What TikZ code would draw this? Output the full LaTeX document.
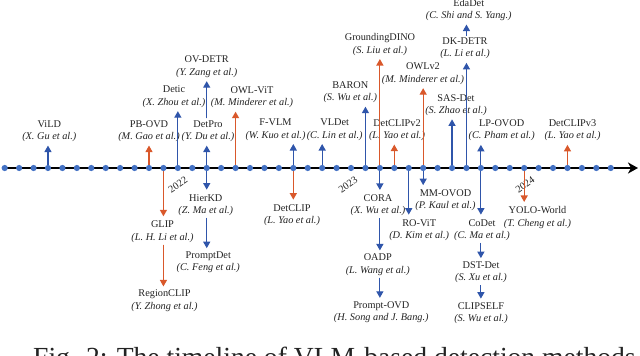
\documentclass[tikz,border=0pt]{standalone}
\usepackage{fontspec}
\setmainfont{Liberation Serif}
\usetikzlibrary{arrows.meta}
\definecolor{dotblue}{RGB}{68,114,196}
\definecolor{arrblue}{RGB}{47,85,170}
\definecolor{arrorange}{RGB}{217,88,43}
\definecolor{txt}{RGB}{35,35,35}
\begin{document}
\begin{tikzpicture}[x=1pt,y=-1pt,
  lbl/.style={align=center, inner sep=0pt, font=\fontsize{10.3}{12.3}\selectfont, text=txt},
  yr/.style={rotate=35, inner sep=0pt, font=\fontsize{10.3}{12.3}\selectfont, text=txt},
  conn/.style={line width=1.2pt, -{Triangle[length=6.5pt,width=7pt]}},
  upc/.style={conn, shorten >=3.5pt},
  dnc/.style={conn, shorten >=4.5pt},
  chain/.style={conn, shorten <=2pt, shorten >=3.5pt},
  bl/.style={draw=arrblue, fill=arrblue},
  og/.style={draw=arrorange, fill=arrorange},
  dot/.style={circle, fill=dotblue, inner sep=0pt, minimum size=6.2pt},
  axisline/.style={line width=2pt, -{Stealth[length=10pt,width=11pt,inset=3pt]}}
]
\useasboundingbox (0,0) rectangle (640,356);
\clip (0,0) rectangle (640,356);

% axis positions
\foreach \i in {0,...,42}{
  \pgfmathsetmacro{\xx}{4.7+14.43*\i}
  \coordinate (d\i) at (\xx,168);
}
\coordinate (axs) at (1.5,168);
\coordinate (axe) at (638,168);

% labels above
\node[lbl] (vild) at (49.3,131.2) {ViLD\\\textit{(X. Gu et al.)}};
\node[lbl] (pbovd) at (149,131.2) {PB-OVD\\\textit{(M. Gao et al.)}};
\node[lbl] (detic) at (174,96.8) {Detic\\\textit{(X. Zhou et al.)}};
\node[lbl] (detpro) at (208,131.3) {DetPro\\\textit{(Y. Du et al.)}};
\node[lbl] (ovdetr) at (206.7,66.8) {OV-DETR\\\textit{(Y. Zang et al.)}};
\node[lbl] (owlvit) at (252,97.3) {OWL-ViT\\\textit{(M. Minderer et al.)}};
\node[lbl] (fvlm) at (275.5,129.7) {F-VLM\\\textit{(W. Kuo et al.)}};
\node[lbl] (vldet) at (334.7,129.7) {VLDet\\\textit{(C. Lin et al.)}};
\node[lbl] (baron) at (350.3,92.3) {BARON\\\textit{(S. Wu et al.)}};
\node[lbl] (gdino) at (380,44.5) {GroundingDINO\\\textit{(S. Liu et al.)}};
\node[lbl] (detclipv2) at (397,130.2) {DetCLIPv2\\\textit{(L. Yao et al.)}};
\node[lbl] (owlv2) at (423,73.8) {OWLv2\\\textit{(M. Minderer et al.)}};
\node[lbl] (sasdet) at (456,105) {SAS-Det\\\textit{(S. Zhao et al.)}};
\node[lbl] (dkdetr) at (465,48.5) {DK-DETR\\\textit{(L. Li et al.)}};
\node[lbl] (edadet) at (468.7,10) {EdaDet\\\textit{(C. Shi and S. Yang.)}};
\node[lbl] (lpovod) at (501.7,130.5) {LP-OVOD\\\textit{(C. Pham et al.)}};
\node[lbl] (detclipv3) at (572.5,130.5) {DetCLIPv3\\\textit{(L. Yao et al.)}};

% labels below
\node[lbl] (glip) at (162.5,231.7) {GLIP\\\textit{(L. H. Li et al.)}};
\node[lbl] (rclip) at (164.5,300.8) {RegionCLIP\\\textit{(Y. Zhong et al.)}};
\node[lbl] (hierkd) at (205.8,205) {HierKD\\\textit{(Z. Ma et al.)}};
\node[lbl] (promptdet) at (208.3,262.5) {PromptDet\\\textit{(C. Feng et al.)}};
\node[lbl] (detclip) at (292,215) {DetCLIP\\\textit{(L. Yao et al.)}};
\node[lbl] (cora) at (378,205.3) {CORA\\\textit{(X. Wu et al.)}};
\node[lbl] (oadp) at (377.8,264.8) {OADP\\\textit{(L. Wang et al.)}};
\node[lbl] (promptovd) at (381.3,312.2) {Prompt-OVD\\\textit{(H. Song and J. Bang.)}};
\node[lbl] (rovit) at (419.2,230) {RO-ViT\\\textit{(D. Kim et al.)}};
\node[lbl] (mmovod) at (445.5,200.5) {MM-OVOD\\\textit{(P. Kaul et al.)}};
\node[lbl] (codet) at (482,230) {CoDet\\\textit{(C. Ma et al.)}};
\node[lbl] (dstdet) at (481,272.5) {DST-Det\\\textit{(S. Xu et al.)}};
\node[lbl] (clipself) at (481,313) {CLIPSELF\\\textit{(S. Wu et al.)}};
\node[lbl] (yolo) at (537.5,217.5) {YOLO-World\\\textit{(T. Cheng et al.)}};

% year labels
\node[yr] (y22) at (178,185) {2022};
\node[yr] (y23) at (348,185) {2023};
\node[yr] (y24) at (525,185) {2024};

% axis line
\draw[axisline] (axs) -- (axe);

% upward connectors
\draw[upc,bl] (d3) -- (d3 |- vild.south);
\draw[upc,og] (d10) -- (d10 |- pbovd.south);
\draw[upc,bl] (d12) -- (d12 |- detic.south);
\draw[upc,bl] (d14) -- (d14 |- detpro.south);
\draw[chain,bl] (d14 |- detpro.north) -- (d14 |- ovdetr.south);
\draw[upc,og] (d16) -- (d16 |- owlvit.south);
\draw[upc,bl] (d20) -- (d20 |- fvlm.south);
\draw[upc,bl] (d22) -- (d22 |- vldet.south);
\draw[upc,bl] (d25) -- (d25 |- baron.south);
\draw[upc,og] (d26) -- (d26 |- gdino.south);
\draw[upc,og] (d27) -- (d27 |- detclipv2.south);
\draw[upc,og] (d29) -- (d29 |- owlv2.south);
\draw[upc,bl] (d31) -- (d31 |- sasdet.south);
\draw[upc,bl] (d32) -- (d32 |- dkdetr.south);
\draw[chain,bl] (d32 |- dkdetr.north) -- (d32 |- edadet.south);
\draw[upc,bl] (d33) -- (d33 |- lpovod.south);
\draw[upc,og] (d39) -- (d39 |- detclipv3.south);

% downward connectors
\draw[dnc,og] (d11) -- (d11 |- glip.north);
\draw[chain,og] (d11 |- glip.south) -- (d11 |- rclip.north);
\draw[dnc,bl] (d14) -- (d14 |- hierkd.north);
\draw[chain,bl] (d14 |- hierkd.south) -- (d14 |- promptdet.north);
\draw[dnc,og] (d20) -- (d20 |- detclip.north);
\draw[dnc,bl] (d26) -- (d26 |- cora.north);
\draw[chain,bl] (d26 |- cora.south) -- (d26 |- oadp.north);
\draw[chain,bl] (d26 |- oadp.south) -- (d26 |- promptovd.north);
\draw[dnc,bl] (d28) -- (d28 |- rovit.north);
\draw[dnc,bl] (d29) -- (d29 |- mmovod.north);
\draw[dnc,bl] (d33) -- (d33 |- codet.north);
\draw[chain,bl] (d33 |- codet.south) -- (d33 |- dstdet.north);
\draw[chain,bl] (d33 |- dstdet.south) -- (d33 |- clipself.north);
\draw[dnc,og] (d36) -- (d36 |- yolo.north);

% dots on top
\foreach \i in {0,...,42}{
  \node[dot] (dot\i) at (d\i) {};
}

% caption (cut by the frame)
\node[anchor=base west, inner sep=0pt, font=\fontsize{27.6}{30}\selectfont, text=txt] (cap) at (33,366) {Fig. 2: The timeline of VLM-based detection methods};
\end{tikzpicture}
\end{document}
